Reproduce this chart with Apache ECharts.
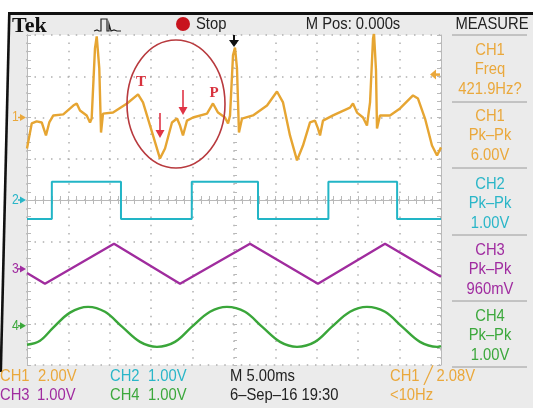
<!DOCTYPE html>
<html><head><meta charset="utf-8">
<script src="https://cdn.jsdelivr.net/npm/echarts/dist/echarts.min.js"></script>
<style>html,body{margin:0;padding:0;background:#fff;}#c{width:533px;height:408px;}</style>
</head><body><div id="c"></div><script>
// ---- data (time in ms, values in volts) ----
const ch1Time = [0,0.57,1.17,1.78,2.29,2.69,3.18,4.38,5.59,6.00,6.40,7.21,7.61,7.81,8.21,8.42,8.73,8.94,9.18,10.39,12.08,13.41,14.01,15.22,16.06,16.67,17.51,18.12,18.48,18.84,19.32,20.05,21.74,22.46,23.07,23.91,24.28,24.52,24.88,25.12,25.36,25.60,25.97,27.29,28.99,30.19,30.92,31.76,32.61,33.33,34.18,34.78,35.14,35.39,35.75,36.96,39.01,39.37,39.86,40.58,41.06,41.43,41.79,41.91,42.15,42.27,42.63,43.84,45.05,46.62,47.22,48.07,48.91,49.52,50.0];
const ch1Volts = [-1.50,-0.29,-0.19,-0.24,-0.87,-0.24,0.10,0.15,0.58,0.68,0.34,0.10,-0.24,-0.05,3.35,3.93,2.38,-0.73,0.19,0.24,0.68,1.12,0.73,-0.87,-1.99,-1.50,-0.24,-0.05,-0.39,-0.87,-0.15,0,0.19,0.68,0.24,0,-0.29,0.10,3.01,3.39,2.38,-0.73,-0.05,0.10,0.58,1.26,0.73,-0.87,-2.08,-1.36,-0.24,-0.15,-0.53,-0.87,-0.15,0.10,0.48,0.68,0.24,0,-0.39,0.73,3.83,4.07,2.28,-0.53,0.10,0.10,0.44,1.07,0.92,-0.05,-1.36,-1.84,-1.45];
const ch2Time = [0,3.0,3.0,11.35,11.35,19.9,19.9,27.9,27.9,36.4,36.4,44.7,44.7,50];
const ch2Volts = [-0.46,-0.46,0.44,0.44,-0.46,-0.46,0.44,0.44,-0.46,-0.46,0.44,0.44,-0.46,-0.46];
const ch3Time = [0,2.17,10.51,18.48,26.93,35.14,43.24,50];
const ch3Volts = [-0.10,-0.36,0.61,-0.36,0.61,-0.36,0.61,-0.19];
const ch4Time = [0,1.57,3.14,5.19,7.37,9.42,11.47,13.65,15.70,17.87,19.93,22.10,24.15,26.33,28.38,30.56,32.61,34.78,36.84,39.01,41.06,43.24,45.29,47.46,49.52,50];
const ch4Volts = [-0.46,-0.36,-0.05,0.32,0.46,0.34,-0.02,-0.39,-0.51,-0.39,-0.02,0.34,0.46,0.34,-0.02,-0.39,-0.51,-0.39,-0.02,0.34,0.46,0.34,-0.02,-0.39,-0.51,-0.49];
const voltsPerDiv = [2, 1, 1, 1];
const groundDiv = [2.0, 0, -1.67, -3.05];
const channelColors = ['#e6a532', '#22b5c6', '#a02c9e', '#3aa63a'];
const textColors = ['#eaa83c', '#2ab6c8', '#a02ca0', '#3ca83c'];
const measureRows = [['CH1','Freq','421.9Hz?'],['CH1','Pk\u2013Pk','6.00V'],['CH2','Pk\u2013Pk','1.00V'],['CH3','Pk\u2013Pk','960mV'],['CH4','Pk\u2013Pk','1.00V']];
const measureColors = [0, 0, 1, 2, 3];
const triggerLevel = 2.08;
const triggerTime = 25;

const chart = echarts.init(document.getElementById('c'), null, {renderer: 'canvas'});
const SANS = '"Liberation Sans",Arial,sans-serif';
const NX = 0.87;
const gridC = '#b9b9b9';

function toDiv(times, volts, ch) {
  return times.map((t, i) => [t, volts[i] / voltsPerDiv[ch] + groundDiv[ch]]);
}
function xAx(pos, extra) {
  return Object.assign({
    type: 'value', min: 0, max: 50, interval: 5, position: pos,
    axisLine: {show: true, lineStyle: {color: gridC, width: 1}},
    axisTick: {show: true, inside: true, length: 4, lineStyle: {color: gridC}},
    minorTick: {show: true, splitNumber: 5, length: 4, lineStyle: {color: gridC}},
    axisLabel: {show: false},
    splitLine: {show: false}
  }, extra || {});
}
function yAx(pos, extra) {
  return Object.assign({
    type: 'value', min: -4, max: 4, interval: 1, position: pos,
    axisLine: {show: true, onZero: false, lineStyle: {color: gridC, width: 1}},
    axisTick: {show: true, inside: true, length: 4, lineStyle: {color: gridC}},
    minorTick: {show: true, splitNumber: 5, length: 4, lineStyle: {color: gridC}},
    axisLabel: {show: false},
    splitLine: {show: false}
  }, extra || {});
}

const series = [
  {data: toDiv(ch1Time, ch1Volts, 0), color: channelColors[0], w: 2.4, z: 6},
  {data: toDiv(ch2Time, ch2Volts, 1), color: channelColors[1], w: 2, z: 5},
  {data: toDiv(ch3Time, ch3Volts, 2), color: channelColors[2], w: 2.4, z: 5},
  {data: toDiv(ch4Time, ch4Volts, 3), color: channelColors[3], w: 2.4, z: 5, smooth: true}
].map(s => ({
  type: 'line', data: s.data, xAxisIndex: 0, yAxisIndex: 0, showSymbol: false, symbol: 'none',
  smooth: s.smooth ? 0.35 : false, clip: true, z: s.z,
  lineStyle: {color: s.color, width: s.w}, silent: true, animation: false
}));

chart.setOption({
  animation: false,
  backgroundColor: '#ebebeb',
  grid: {left: 27, top: 35, width: 414, height: 330, show: true, backgroundColor: '#ffffff', borderWidth: 0},
  xAxis: [
    xAx('bottom', {splitLine: {show: true, lineStyle: {color: '#b0b0b0', width: 1.5, type: [1.5, 6.78], dashOffset: 0.75}}}),
    xAx('top'),
    xAx('bottom', {offset: -165, axisLine: {show: false}, axisTick: {show: true, inside: true, length: 3, lineStyle: {color: gridC}}, minorTick: {show: true, splitNumber: 5, length: 3, lineStyle: {color: gridC}}}),
    xAx('top', {offset: -165, axisLine: {show: false}, axisTick: {show: true, inside: false, length: 3, lineStyle: {color: gridC}}, minorTick: {show: true, splitNumber: 5, length: 3, lineStyle: {color: gridC}}})
  ],
  yAxis: [
    yAx('left', {splitLine: {show: true, lineStyle: {color: '#b0b0b0', width: 1.5, type: [1.5, 6.75], dashOffset: 0.75}}}),
    yAx('right'),
    yAx('left', {offset: -207, axisLine: {show: false}, axisTick: {show: true, inside: true, length: 3, lineStyle: {color: gridC}}, minorTick: {show: true, splitNumber: 5, length: 3, lineStyle: {color: gridC}}}),
    yAx('right', {offset: -207, axisLine: {show: false}, axisTick: {show: true, inside: false, length: 3, lineStyle: {color: gridC}}, minorTick: {show: true, splitNumber: 5, length: 3, lineStyle: {color: gridC}}})
  ],
  series: series
});

// ---- decorations (screen furniture, annotations) ----
const g = [];
const txt = (text, x, y, o, sx) => g.push({type: 'text', x: x, y: y, z: 50, silent: true, scaleX: sx === undefined ? NX : sx,
  style: Object.assign({text: text, font: '17px ' + SANS, fill: '#111', textAlign: 'left', textVerticalAlign: 'middle'}, o || {})});
// white area outside the frame and frame lines
g.push({type: 'rect', shape: {x: 0, y: 0, width: 533, height: 12}, style: {fill: '#fff'}, z: 40});
g.push({type: 'polygon', shape: {points: [[0, 0], [9, 0], [9, 13], [0.5, 372], [0, 372]]}, style: {fill: '#fff'}, z: 40});
g.push({type: 'rect', shape: {x: 8, y: 12, width: 525, height: 3}, style: {fill: '#111'}, z: 41});
g.push({type: 'line', shape: {x1: 9.3, y1: 13, x2: 0.8, y2: 372}, style: {stroke: '#111', lineWidth: 2.6}, z: 41});
// header
txt('Tek', 12, 26, {font: 'bold 22px "Liberation Serif","DejaVu Serif",serif', fill: '#111'}, 1);
g.push({type: 'polyline', z: 50, shape: {points: [[94,31],[97,30],[99,31],[101,31],[101,19],[107,19],[107,31],[109,31],[109,24],[111,31],[114,30],[117,31],[121,31]]}, style: {stroke: '#222', lineWidth: 1.2, fill: null}});
g.push({type: 'circle', z: 50, shape: {cx: 183, cy: 24, r: 7}, style: {fill: '#c8141e'}});
txt('Stop', 196, 24, {fill: '#222'});
txt('M Pos: 0.000s', 353, 24, {textAlign: 'center', fill: '#222'});
txt('MEASURE', 492, 24, {textAlign: 'center', fill: '#222'});
// measure panel
const sepY = [35, 102, 168, 235, 301, 367];
sepY.forEach(y => g.push({type: 'line', z: 45, shape: {x1: 452, y1: y, x2: 527, y2: y}, style: {stroke: '#9a9a9a', lineWidth: 1}}));
measureRows.forEach((row, i) => {
  const base = [50, 116, 184, 250, 316][i];
  row.forEach((s, j) => txt(s, 490, base + j * 19.5, {textAlign: 'center', fill: textColors[measureColors[i]]}));
});
// bottom status
txt('CH1', 0, 376, {fill: textColors[0]});
txt('2.00V', 38, 376, {fill: textColors[0]});
txt('CH3', 0, 395, {fill: textColors[2]});
txt('1.00V', 37, 395, {fill: textColors[2]});
txt('CH2', 110, 376, {fill: textColors[1]});
txt('1.00V', 148, 376, {fill: textColors[1]});
txt('CH4', 110, 395, {fill: textColors[3]});
txt('1.00V', 148, 395, {fill: textColors[3]});
txt('M 5.00ms', 230, 376, {fill: '#222'});
txt('6\u2013Sep\u201316 19:30', 230, 395, {fill: '#222'});
txt('CH1 \u2571 2.08V', 390, 376, {fill: textColors[0]});
txt('<10Hz', 390, 395, {fill: textColors[0]});
// channel ground markers
groundDiv.forEach((gd, i) => {
  const p = chart.convertToPixel({gridIndex: 0}, [0, gd]);
  const y = p[1];
  txt(String(i + 1), 12, y, {fill: textColors[i], font: '14px ' + SANS});
  g.push({type: 'polygon', z: 50, shape: {points: [[20, y - 3.5], [26, y], [20, y + 3.5]]}, style: {fill: textColors[i]}});
  g.push({type: 'line', z: 50, shape: {x1: 18, y1: y, x2: 22, y2: y}, style: {stroke: textColors[i], lineWidth: 1.5}});
});
// trigger position (top) and level (right)
const tp = chart.convertToPixel({gridIndex: 0}, [triggerTime, 4]);
g.push({type: 'line', z: 50, shape: {x1: tp[0], y1: tp[1], x2: tp[0], y2: tp[1] + 8}, style: {stroke: '#111', lineWidth: 2}});
g.push({type: 'polygon', z: 50, shape: {points: [[tp[0] - 5, tp[1] + 5], [tp[0] + 5, tp[1] + 5], [tp[0], tp[1] + 12]]}, style: {fill: '#111'}});
const tl = chart.convertToPixel({gridIndex: 0}, [50, triggerLevel / voltsPerDiv[0] + groundDiv[0]]);
g.push({type: 'polygon', z: 50, shape: {points: [[tl[0] - 11, tl[1]], [tl[0] - 5, tl[1] - 5], [tl[0] - 5, tl[1] + 5]]}, style: {fill: textColors[0]}});
g.push({type: 'line', z: 50, shape: {x1: tl[0] - 6, y1: tl[1], x2: tl[0] - 1, y2: tl[1]}, style: {stroke: textColors[0], lineWidth: 2.5}});
// red annotation: ellipse, arrows, T / P
g.push({type: 'ellipse', z: 60, shape: {cx: 176, cy: 104, rx: 49, ry: 64}, style: {stroke: '#b83a3e', lineWidth: 1.6, fill: null}});
[[160, 113, 138], [183, 90, 115]].forEach(a => {
  g.push({type: 'line', z: 60, shape: {x1: a[0], y1: a[1], x2: a[0], y2: a[2] - 6}, style: {stroke: '#e03446', lineWidth: 1.6}});
  g.push({type: 'polygon', z: 60, shape: {points: [[a[0] - 4.5, a[2] - 8], [a[0] + 4.5, a[2] - 8], [a[0], a[2]]]}, style: {fill: '#e03446'}});
});
txt('T', 141, 82, {textAlign: 'center', font: 'bold 15px "Liberation Serif","DejaVu Serif",serif', fill: '#d8323e'}, 1);
txt('P', 214, 93, {textAlign: 'center', font: 'bold 15px "Liberation Serif","DejaVu Serif",serif', fill: '#d8323e'}, 1);

chart.setOption({graphic: g});
</script></body></html>
